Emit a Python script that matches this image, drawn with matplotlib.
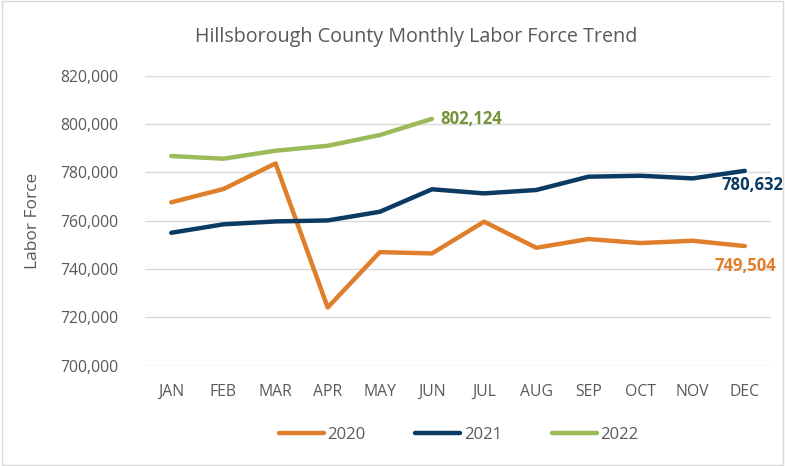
import matplotlib
matplotlib.use("Agg")
import matplotlib.pyplot as plt
from matplotlib.patches import Rectangle
from matplotlib.ticker import FuncFormatter

plt.rcParams['font.family'] = ['Open Sans', 'DejaVu Sans']

months = ["JAN", "FEB", "MAR", "APR", "MAY", "JUN", "JUL", "AUG", "SEP", "OCT", "NOV", "DEC"]
lf_2020 = [767600, 773100, 783700, 724100, 747000, 746450, 759600, 748800, 752400, 750750, 751700, 749504]
lf_2021 = [755000, 758500, 759700, 760100, 763700, 773000, 771300, 772700, 778200, 778600, 777500, 780632]
lf_2022 = [786750, 785650, 788950, 791000, 795450, 802124]

c20 = "#E07F2B"
c21 = "#0B3A62"
c22 = "#9BBB59"
txt = "#595959"

fig = plt.figure(figsize=(7.85, 4.66), dpi=100)
ax = fig.add_axes([0.185, 0.2152, 0.797, 0.6224])

x = list(range(len(months)))
ax.plot(x, lf_2020, color=c20, lw=3.2, label="2020", solid_capstyle="round")
ax.plot(x, lf_2021, color=c21, lw=3.2, label="2021", solid_capstyle="round")
ax.plot(x[:len(lf_2022)], lf_2022, color=c22, lw=3.2, label="2022", solid_capstyle="round")

# end labels
ax.annotate(f"{lf_2022[-1]:,}", (len(lf_2022) - 1, lf_2022[-1]), xytext=(6, 0),
            textcoords="offset points", va="center", ha="left",
            color="#76923C", fontsize=12, fontweight="bold")
ax.annotate(f"{lf_2021[-1]:,}", (11, lf_2021[-1]), xytext=(-17, -10),
            textcoords="offset points", va="center", ha="left",
            color=c21, fontsize=12, fontweight="bold", annotation_clip=False)
ax.annotate(f"{lf_2020[-1]:,}", (11, lf_2020[-1]), xytext=(-22, -14),
            textcoords="offset points", va="center", ha="left",
            color=c20, fontsize=12, fontweight="bold", annotation_clip=False)

ax.set_xlim(-0.5, 11.5)
ax.set_ylim(700000, 820000)
ax.set_yticks(range(700000, 820001, 20000))
ax.yaxis.set_major_formatter(FuncFormatter(lambda v, p: f"{int(v):,}"))
ax.set_xticks(x)
ax.set_xticklabels(months)
ax.grid(axis="y", color="#D9D9D9", lw=1)
ax.set_axisbelow(True)
for s in ax.spines.values():
    s.set_visible(False)
ax.tick_params(length=0, labelsize=11.3, colors=txt, pad=13)
ax.tick_params(axis="y", pad=19)
ax.set_ylabel("Labor Force", fontsize=12.5, color=txt, labelpad=14)

fig.text(0.53, 0.921, "Hillsborough County Monthly Labor Force Trend",
         ha="center", va="center", fontsize=14.2, color=txt)

fig.legend(loc="center", bbox_to_anchor=(0.584, 0.066), ncol=3, frameon=False,
           fontsize=12, labelcolor=txt, handlelength=2.7, handletextpad=0.2,
           columnspacing=3.0)

fig.patches.append(Rectangle((0.003, 0.003), 0.994, 0.994, transform=fig.transFigure,
                             fill=False, edgecolor="#D9D9D9", lw=1))

fig.savefig("out.png", dpi=100)
